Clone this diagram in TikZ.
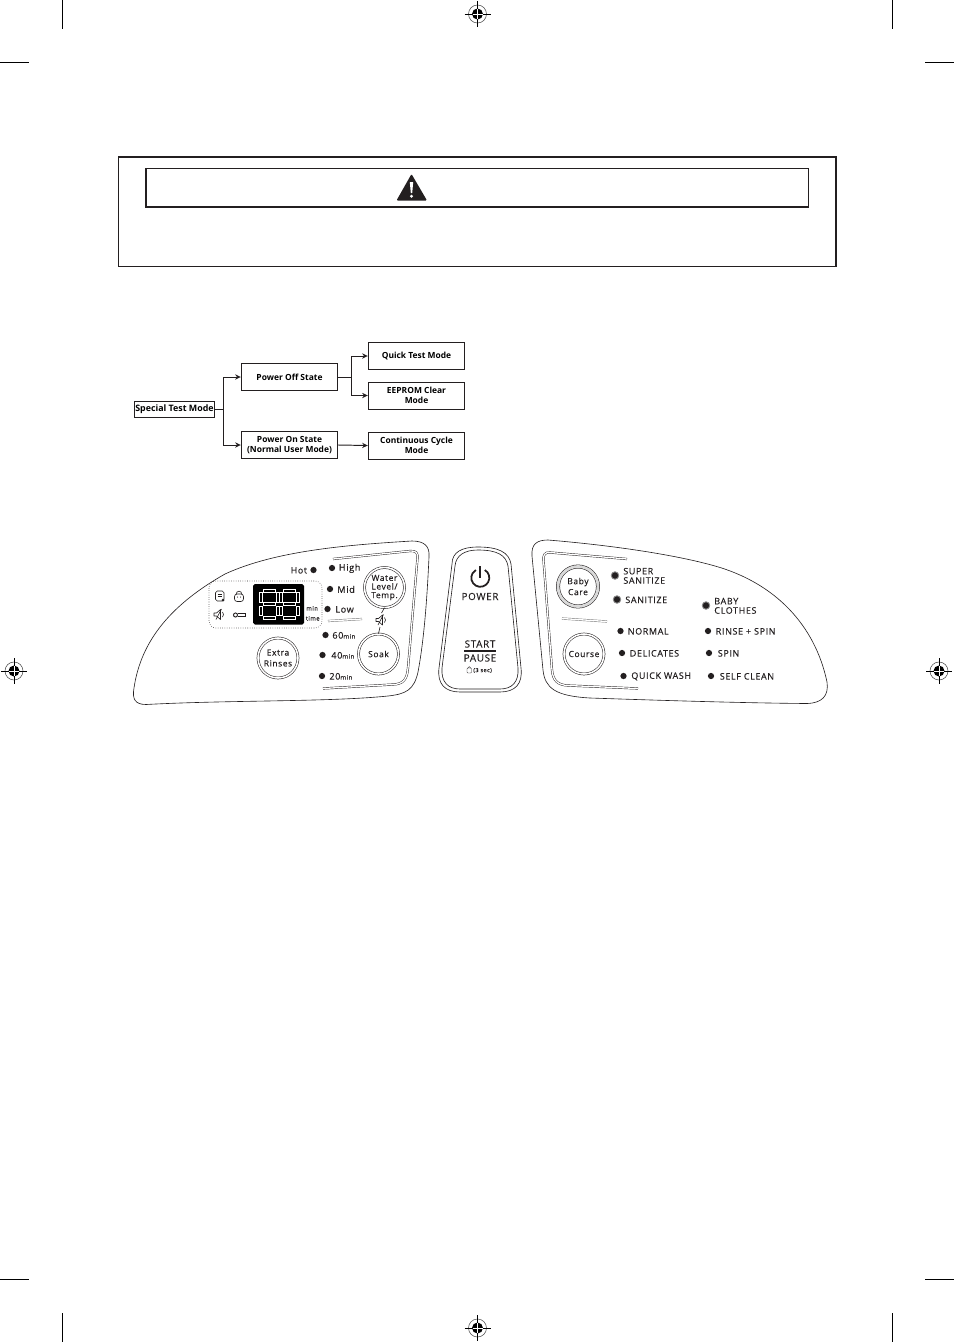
\documentclass[tikz,border=0pt]{standalone}
\usepackage{fontspec}
\setmainfont{Open Sans}
\newfontfamily\panelfont[LetterSpace=7,FakeBold=0.25]{Open Sans}
\usetikzlibrary{arrows.meta,positioning,shapes.geometric,calc}
\definecolor{ink}{HTML}{231F20}
\definecolor{halo}{HTML}{8A8A8A}
\newcommand{\minsz}{\fontsize{3.5}{4}\selectfont}

\begin{document}
\begin{tikzpicture}[
  x=0.02cm, y=-0.02cm,
  >=Stealth,
  modebox/.style={draw=ink, line width=0.55pt, minimum width=1.93cm, minimum height=0.54cm, align=center, inner sep=0pt, font=\fontsize{4.8}{5.9}\selectfont\bfseries},
  arr/.style={->, line width=0.55pt, color=ink, >={Stealth[length=3.2pt,width=3pt]}},
  outline/.style={draw=ink, line width=0.35pt},
  dbl/.style={draw=ink, line width=0.25pt, double=white, double distance=0.75pt},
  btn/.style={circle, draw=ink, line width=0.3pt, double=white, double distance=0.9pt, minimum size=0.8cm, inner sep=0pt, align=center, font=\panelfont\fontsize{4.8}{6.2}\selectfont, text=ink},
  led/.style={circle, fill=ink, minimum size=0.125cm, inner sep=0pt},
  bigled/.style={circle, fill=ink, draw=halo, line width=0.5pt, minimum size=0.15cm, inner sep=0pt},
  lbl/.style={anchor=west, inner sep=0pt, align=left, yshift=-0.2pt, text=ink, font=\panelfont\fontsize{5.1}{5.3}\selectfont},
  capt/.style={inner sep=0pt, text=ink, font=\panelfont\fontsize{5.6}{5.6}\selectfont},
  seg/.style={draw=white, line width=0.3pt},
  icon/.style={draw=ink, line width=0.35pt},
  crop/.style={draw=black, line width=0.55pt},
  regmark/.pic={
    \draw[black!70, line width=0.3pt] (0,0) circle[radius=9];
    \fill[black] (0,0) circle[radius=5.5];
    \draw[black, line width=0.45pt] (-13,0) -- (13,0) (0,-13) -- (0,13);
    \draw[white, line width=0.3pt] (-5,0) -- (5,0) (0,-5) -- (0,5);
  },
]
\useasboundingbox (0,0) rectangle (954,1342);

% page marks
\foreach \px in {62,892} {
  \draw[crop] (\px,0) -- (\px,29);
  \draw[crop] (\px,1313) -- (\px,1342);
}
\foreach \py in {62,1279} {
  \draw[crop] (0,\py) -- (29,\py);
  \draw[crop] (925,\py) -- (954,\py);
}
\pic at (477.5,14) {regmark};
\pic at (477.5,1328) {regmark};
\pic at (14,671) {regmark};
\pic at (939,671) {regmark};

% warning box
\draw[draw=ink, line width=0.6pt] (118.5,157) rectangle (836,266.5);
\draw[draw=ink, line width=1.1pt] (118.5,157) -- (836,157);
\draw[draw=ink, line width=0.6pt] (146,168.5) rectangle (808.5,207);
\draw[draw=ink, line width=1.1pt] (146,207) -- (808.5,207);
\fill[ink, rounded corners=0.6pt] (396.5,200.5) -- (411.5,174) -- (427,200.5) -- cycle;
\fill[white] (409.8,182) -- (413.2,182) -- (412.2,193) -- (410.8,193) -- cycle;
\fill[white] (411.5,196.3) circle[radius=1.6];

% mode tree
\node[modebox, minimum width=1.6cm, minimum height=0.31cm, font=\fontsize{5.05}{6}\selectfont\bfseries] (special) at (174.5,409.5) {Special Test Mode};
\node[modebox] (poweroff) at (289.5,377) {Power Off State};
\node[modebox] (poweron) at (289.5,445) {Power On State\\(Normal User Mode)};
\node[modebox] (quick) at (416.5,356) {Quick Test Mode};
\node[modebox] (eeprom) at (416.5,395.5) {EEPROM Clear\\Mode};
\node[modebox] (contin) at (416.5,445.5) {Continuous Cycle\\Mode};

\draw[arr] (special.east) -- ++(9,0) |- (poweroff.west);
\draw[arr] (special.east) -- ++(9,0) |- (poweron.west);
\draw[arr] (poweroff.east) -- ++(13,0) |- (quick.west);
\draw[arr] (poweroff.east) -- ++(13,0) |- (eeprom.west);
\draw[arr] (poweron.east) -- (contin.west);

% left panel
\draw[outline] (146,704.5) .. controls (135,704.5) and (132,699) .. (134,688)
  .. controls (141,640) and (172,604) .. (225,574)
  .. controls (275,551) and (345,545) .. (412,541)
  .. controls (424,541) and (430,546) .. (429,557)
  .. controls (427,600) and (424,640) .. (418,672)
  .. controls (414,690) and (406,694) .. (388,696)
  .. controls (330,702) and (230,700) .. (146,704.5) -- cycle;
\draw[dbl] (333,559) -- (410,551) .. controls (416,550.5) and (418,553) .. (417.5,558)
  -- (408,668) .. controls (407,680) and (403,684) .. (393,684.5) -- (323,688.5);
\draw[dbl, draw=black!55] (328,621) -- (362,619);
\draw[ink, densely dotted, line width=0.3pt, rounded corners=4pt] (209,581) rectangle (322,628);

\node[btn, font=\panelfont\fontsize{4.8}{4.9}\selectfont] (water) at (384.5,587.5) {Water\\Level/\\Temp.};
\node[btn] (soak) at (378.5,654) {Soak};
\node[btn] (extra) at (278,658) {Extra\\Rinses};

% display
\fill[black, rounded corners=1pt] (253,584) rectangle (304,624.5);
\foreach \dx in {261,281} {
  \draw[seg] (\dx+2,589) rectangle (\dx+14.5,592);
  \draw[seg] (\dx+2,602.5) rectangle (\dx+14.5,605.5);
  \draw[seg] (\dx+2,616) rectangle (\dx+14.5,619);
  \draw[seg] (\dx-1.5,592.5) rectangle (\dx+1.5,602);
  \draw[seg] (\dx+15,592.5) rectangle (\dx+18,602);
  \draw[seg] (\dx-1.5,606) rectangle (\dx+1.5,615.5);
  \draw[seg] (\dx+15,606) rectangle (\dx+18,615.5);
}
\node[lbl, font=\panelfont\fontsize{3.4}{3.4}\selectfont] (minlbl) at (306,608) {min};
\node[lbl, font=\panelfont\fontsize{3.4}{3.4}\selectfont] (timelbl) at (305.5,618) {time};

% display icons
\draw[icon, rounded corners=1pt] (215.5,591) rectangle (224,601);
\draw[icon] (217.5,594) -- (222,594) (217.5,596.5) -- (222,596.5);
\fill[ink] (223,600) circle[radius=1.5];
\draw[icon, rounded corners=1.5pt] (234.5,594) rectangle (243.5,601.5);
\draw[icon] (236.2,594) arc[start angle=180, end angle=360, radius=2.8];
\fill[ink] (237.4,597) circle[radius=0.6] (240.6,597) circle[radius=0.6];
\draw[icon, line width=0.55pt] (235.5,615) circle[radius=2];
\draw[icon, line width=0.55pt] (237.5,613.8) -- (245,613.8) -- (245,616.2) -- (237.5,616.2);

\foreach \cx/\cy in {219/614.5, 381/620} {
  \begin{scope}[shift={(\cx,\cy)}]
    \draw[icon, line join=round] (-5,-1.5) -- (-2.5,-1.5) -- (1.5,-5) -- (1.5,5) -- (-2.5,1.5) -- (-5,1.5) -- cycle;
    \draw[icon] (-3,5) -- (2.5,-5.5);
    \draw[icon] (3.5,-2.5) .. controls (4.8,-1) and (4.8,1) .. (3.5,2.5);
  \end{scope}
}
\coordinate (mutetop) at (381.5,613);
\coordinate (mutebot) at (380,627);
\draw[icon] (water.south) -- (mutetop);
\draw[icon] (mutebot) -- (soak.north);

% left panel lamps
\foreach \id/\dotx/\doty/\lblx/\txt in {
  high/332/568/338.5/High,
  mid/330/589/337/Mid,
  low/327.5/609/335/Low,
  sixty/325.5/635/332/{60{\minsz min}},
  forty/322.5/655/331/{40{\minsz min}},
  twenty/322/676/329/{20{\minsz min}}} {
  \node[led] (\id) at (\dotx,\doty) {};
  \node[lbl, font=\panelfont\fontsize{5.2}{5.2}\selectfont] (\id txt) at (\lblx,\doty) {\txt};
}
\node[led] (hot) at (313.5,570) {};
\node[lbl, font=\panelfont\fontsize{5}{5}\selectfont] (hottxt) at (290.5,570) {Hot};

% centre panel
\draw[outline] (478,547) .. controls (462,547) and (452,552) .. (452,564)
  -- (439,668) .. controls (437,684) and (445,692) .. (460,692)
  -- (500,692) .. controls (515,692) and (523,684) .. (521,668)
  -- (511,564) .. controls (509,552) and (498,547) .. (478,547) -- cycle;
\draw[outline] (478,550) .. controls (465,550) and (456,555) .. (455,566)
  -- (442,668) .. controls (441,682) and (448,689) .. (460,689)
  -- (500,689) .. controls (512,689) and (519,682) .. (518,668)
  -- (508,566) .. controls (506,555) and (497,550) .. (478,550) -- cycle;
\draw[ink, line width=1.1pt] (480,566) -- (480,578);
\draw[ink, line width=1pt] (484.8,570) arc[start angle=-60, end angle=240, radius=9];
\node[capt] (powertxt) at (480,596.5) {POWER};
\draw[dbl] (455,619) -- (506,619);
\node[capt] (starttxt) at (480,644) {START};
\draw[ink, line width=0.7pt] (464,651) -- (496,651);
\node[capt] (pausetxt) at (480,658) {PAUSE};
\draw[icon, line width=0.25pt, rounded corners=0.5pt] (467,668) rectangle (471.5,673);
\draw[icon, line width=0.25pt] (467.8,668) arc[start angle=180, end angle=360, radius=1.4];
\node[anchor=west, inner sep=0pt, text=ink, font=\panelfont\fontsize{3.2}{3.2}\selectfont] (sectxt) at (473,670.5) {(3 sec)};

% right panel
\draw[outline] (532,556) .. controls (531,544) and (537,540) .. (548,540)
  .. controls (620,546) and (680,556) .. (715,566)
  .. controls (775,583) and (815,625) .. (827,682)
  .. controls (829,696) and (822,703) .. (807,703.5)
  .. controls (740,703) and (650,700) .. (590,698)
  .. controls (555,696) and (545,688) .. (543,670) -- cycle;
\draw[dbl] (627,559) -- (550,552.5) .. controls (545,552) and (543,555) .. (543.5,560)
  -- (552,670) .. controls (553,681) and (558,685) .. (568,685.5) -- (638,688.5);
\draw[dbl, draw=black!55] (562,618.5) -- (607,621.5);

\node[btn, double distance=1.6pt, double=black!15] (baby) at (578,586.5) {Baby\\Care};
\node[btn] (course) at (584,654) {Course};

\foreach \id/\dotx/\doty/\lblx/\txt in {
  normal/620.5/631/627.5/NORMAL,
  rinse/708/631/715.5/RINSE + SPIN,
  delicates/622/653/629.5/DELICATES,
  spin/709/653/717.5/SPIN,
  quickw/623.5/676/631/QUICK WASH,
  selfc/711/676/719.5/SELF CLEAN} {
  \node[led] (\id) at (\dotx,\doty) {};
  \node[lbl] (\id txt) at (\lblx,\doty) {\txt};
}
\foreach \id/\dotx/\doty/\lblx/\txt in {
  supers/615/575.5/623/{SUPER\\SANITIZE},
  sanit/617/599.5/625/SANITIZE,
  babyc/706/605.5/714/{BABY\\CLOTHES}} {
  \node[bigled] (\id) at (\dotx,\doty) {};
  \node[lbl] (\id txt) at (\lblx,\doty) {\txt};
}
\end{tikzpicture}
\end{document}
